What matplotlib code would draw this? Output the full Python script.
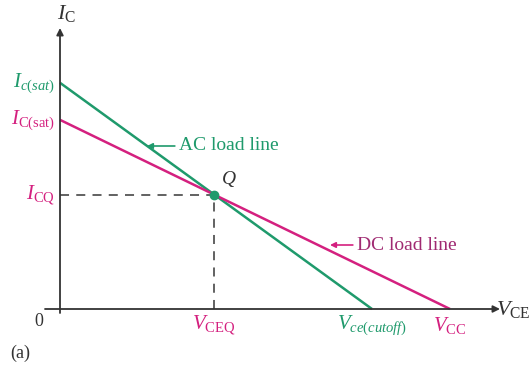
import matplotlib
matplotlib.use("Agg")
import matplotlib.pyplot as plt

# Data (arbitrary units)
VCC = 10.0
VCE_CUTOFF = 8.0
VCEQ = 3.95
IC_SAT_DC = 4.85
IC_SAT_AC = 5.8
ICQ = 2.92

plt.rcParams['mathtext.fontset'] = 'custom'
plt.rcParams['mathtext.rm'] = 'Liberation Serif'
plt.rcParams['mathtext.it'] = 'Liberation Serif:italic'
plt.rcParams['font.family'] = 'Liberation Serif'

GREEN = '#1f9a6c'
MAG = '#d4207f'
DARK = '#333333'
TXT_MAG = '#a02a72'

fig = plt.figure(figsize=(5.30, 3.66), dpi=100)
ax = fig.add_axes([0, 0, 1, 1])
ax.set_xlim(-60/39, 470/39)
ax.set_ylim(-57/39, 309/39)
ax.axis('off')

# axes
ax.annotate('', xy=(440/39, 0), xytext=(-15/39, 0),
            arrowprops=dict(arrowstyle='-|>', color=DARK, lw=1.3,
                            mutation_scale=10, shrinkA=0, shrinkB=0))
ax.annotate('', xy=(0, 281/39), xytext=(0, -4/39),
            arrowprops=dict(arrowstyle='-|>', color=DARK, lw=1.3,
                            mutation_scale=10, shrinkA=0, shrinkB=0))

# load lines
ax.plot([0, VCE_CUTOFF], [IC_SAT_AC, 0], color=GREEN, lw=1.8, solid_capstyle='butt')
ax.plot([0, VCC], [IC_SAT_DC, 0], color=MAG, lw=1.8, solid_capstyle='butt')

# dashed guides
ax.plot([0, VCEQ], [ICQ, ICQ], color='#555555', lw=1.3, ls=(0, (5, 4)))
ax.plot([VCEQ, VCEQ], [0, ICQ], color='#555555', lw=1.3, ls=(0, (5, 4)))
ax.plot([VCEQ], [ICQ], 'o', color=GREEN, ms=6, zorder=5)

fs = 15
# y-axis labels
ax.text(6/39, 296/39, r'$I_{\mathrm{C}}$', color=DARK, fontsize=16, ha='center', va='center')
ax.text(-5/39, (309-83)/39, r'$I_{c(sat)}$', color=GREEN, fontsize=fs, ha='right', va='center')
ax.text(-5/39, (309-120)/39, r'$I_{\mathrm{C(sat)}}$', color=MAG, fontsize=fs, ha='right', va='center')
ax.text(-5/39, ICQ, r'$I_{\mathrm{CQ}}$', color=MAG, fontsize=fs, ha='right', va='center')
ax.text(-21/39, -12/39, '0', color=DARK, fontsize=13, ha='center', va='center')

# x-axis labels
ax.text(VCEQ, -16/39, r'$V_{\mathrm{CEQ}}$', color=MAG, fontsize=fs, ha='center', va='center')
ax.text(VCE_CUTOFF, -16/39, r'$V_{ce(cutoff)}$', color=GREEN, fontsize=fs, ha='center', va='center')
ax.text(VCC, -16/39, r'$V_{\mathrm{CC}}$', color=MAG, fontsize=fs, ha='center', va='center')
ax.text(436/39, 0, r'$V_{\mathrm{CE}}$', color=DARK, fontsize=16, ha='left', va='center')

ax.text(VCEQ + 15/39, ICQ + 16/39, r'$Q$', color=DARK, fontsize=14, ha='center', va='center')

# line labels
ax.annotate('AC load line', xy=(87/39, (309-146)/39), xytext=(119/39, (309-146)/39),
            color=GREEN, fontsize=14, ha='left', va='center',
            arrowprops=dict(arrowstyle='-|>', color=GREEN, lw=1.2, mutation_scale=8,
                            shrinkA=1, shrinkB=0))
ax.annotate('DC load line', xy=(270/39, (309-245)/39), xytext=(297/39, (309-245)/39),
            color=TXT_MAG, fontsize=14, ha='left', va='center',
            arrowprops=dict(arrowstyle='-|>', color=MAG, lw=1.2, mutation_scale=8,
                            shrinkA=1, shrinkB=0))

ax.text(-50/39, -44/39, '(a)', color=DARK, fontsize=13, ha='left', va='center')

fig.savefig('out.png', dpi=100)
